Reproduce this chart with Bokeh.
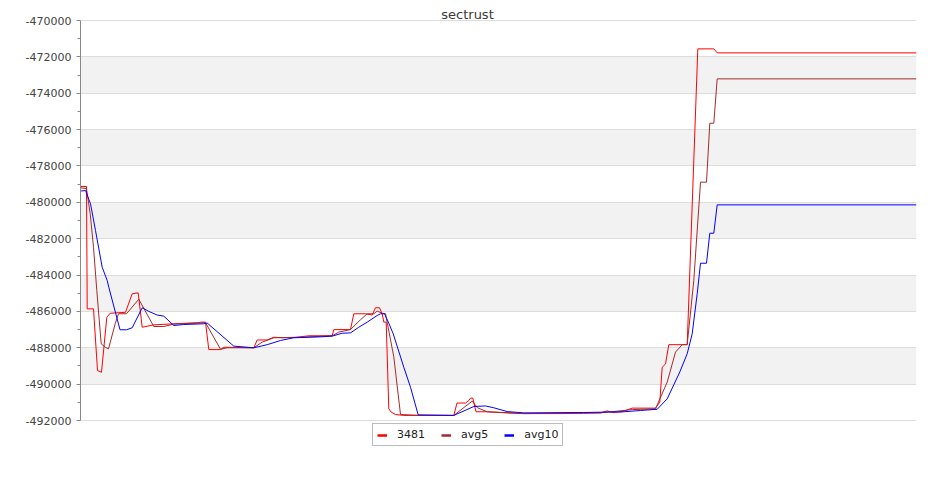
from bokeh.plotting import figure
from bokeh.models import Range1d, FixedTicker, PrintfTickFormatter, Legend, LegendItem, Label, BoxAnnotation
from bokeh.embed import file_html
from bokeh.resources import INLINE

title_text = "sectrust"
series_names = ["3481", "avg5", "avg10"]
series_colors = ["#ff0000", "#a52a2a", "#0000ff"]

y_ticks = [-492000, -490000, -488000, -486000, -484000, -482000,
           -480000, -478000, -476000, -474000, -472000, -470000]
y_minor_ticks = [-491000, -489000, -487000, -485000, -483000, -481000,
                 -479000, -477000, -475000, -473000, -471000]

# series 3481
x_3481 = [80, 86, 86.7, 93, 97, 101, 106.3, 109.7, 125, 131.7, 137.7, 141.7, 153.3, 173.3,
          198.3, 200, 205, 208.3, 220, 223.3, 253.3, 256.7, 266.7, 273.3, 281.7, 295, 308.3,
          331.7, 333.3, 350, 353.3, 365, 371.7, 375, 379, 381.7, 383.3, 385.7, 388.3, 390.7,
          395, 403.3, 453.3, 456.5, 465, 468.3, 470, 472.3, 475.5, 486.7, 500, 523, 560, 583,
          600, 606.7, 612, 621.7, 631.7, 655, 659.3, 661.7, 665, 668.3, 686.7, 697.3, 713.3,
          716.7, 916]
y_3481 = [-479130, -479130, -485860, -485860, -489250, -489350, -486320, -486100, -486050,
          -485030, -484980, -486870, -486740, -486680, -486620, -486590, -486590, -488100,
          -488100, -487970, -488000, -487570, -487570, -487420, -487450, -487430, -487340,
          -487340, -487000, -487000, -486130, -486130, -486200, -485800, -485800, -486130,
          -486590, -486590, -491360, -491540, -491670, -491720, -491720, -491040, -491040,
          -490900, -490770, -490770, -491520, -491520, -491560, -491620, -491620, -491600,
          -491580, -491470, -491560, -491520, -491320, -491320, -490990, -489070, -488890,
          -487830, -487830, -471560, -471560, -471780, -471780]

# series avg5
x_avg5 = [80, 86, 89.7, 93, 96.3, 100.7, 104.7, 108, 114.7, 118, 126, 138.3, 153.3, 163.3,
          173.3, 205, 220, 226.7, 253.3, 261.7, 273.3, 300, 331.7, 338.3, 350, 360, 366.7,
          373.3, 376.7, 381.7, 385, 393.3, 400, 420, 453.3, 471.7, 477, 486.7, 523, 600,
          631.7, 655, 666.7, 675, 681.7, 686.7, 693.3, 700, 706, 709.3, 713.3, 716.7, 916]
y_avg5 = [-479200, -479250, -480630, -482470, -484850, -487780, -487970, -488060, -486680,
          -486130, -486130, -485330, -486830, -486830, -486700, -486620, -488080, -488000,
          -488000, -487690, -487450, -487420, -487340, -487140, -486995, -486460, -486130,
          -486130, -485985, -486100, -486130, -488500, -491670, -491720, -491720, -490935,
          -491300, -491520, -491620, -491580, -491400, -491360, -489890, -488240, -487830,
          -487830, -484300, -478890, -478890, -475650, -475650, -473210, -473210]

# series avg10
x_avg10 = [80, 85, 90, 95, 101.7, 106.7, 108.3, 119.5, 126, 131.7, 141.7, 148.3, 156.7, 163.3,
           173.3, 183.3, 203.3, 206.7, 233.3, 253.3, 266.7, 280, 293.3, 320, 331.7, 341.7, 350,
           358.3, 366.7, 376.7, 380, 384, 388.3, 392.7, 403.3, 410, 417.7, 453.3, 473.3, 485,
           493.3, 506.7, 523.3, 583.3, 623.3, 640, 656.7, 666.7, 679.3, 686.7, 691.7, 696.7,
           700, 706, 709.3, 713.3, 716.7, 916]
y_avg10 = [-479380, -479350, -480080, -481550, -483570, -484300, -484670, -487010, -487010,
           -486900, -485800, -486000, -486200, -486260, -486775, -486720, -486680, -486640,
           -487910, -488000, -487830, -487600, -487450, -487400, -487360, -487200, -487180,
           -486870, -486590, -486225, -486130, -486130, -486650, -487230, -489070, -490170,
           -491690, -491720, -491230, -491200, -491300, -491510, -491580, -491560, -491520,
           -491450, -491380, -490810, -489330, -488330, -487230, -485030, -483350, -483350,
           -481700, -481700, -480140, -480140]

y_min, y_max = -492000, -470000
# frame extends beyond the axis range: title room above, legend room below
y_view_bottom, y_view_top = -493650, -468900

p = figure(width=935, height=490, output_backend="svg", toolbar_location=None,
           x_range=Range1d(80, 916), y_range=Range1d(y_view_bottom, y_view_top),
           min_border_left=80, min_border_right=19, min_border_top=0, min_border_bottom=40)
p.outline_line_color = None
p.background_fill_color = "white"
p.border_fill_color = "white"

p.xaxis.visible = False
p.xgrid.visible = False

ya = p.yaxis[0]
ya.bounds = (y_min, y_max)
ya.ticker = FixedTicker(ticks=y_ticks, minor_ticks=y_minor_ticks)
ya.formatter = PrintfTickFormatter(format="%d")
ya.axis_line_color = "#888888"
ya.major_tick_line_color = "#888888"
ya.minor_tick_line_color = "#888888"
ya.major_tick_in = 0
ya.major_tick_out = 4
ya.minor_tick_in = 0
ya.minor_tick_out = 3
ya.major_label_text_font = "DejaVu Sans"
ya.major_label_text_font_size = "11px"
ya.major_label_text_color = "#444444"
ya.major_label_standoff = 5

# alternating bands between every other pair of ticks
for i in range(1, len(y_ticks) - 1, 2):
    p.add_layout(BoxAnnotation(bottom=y_ticks[i], top=y_ticks[i + 1], fill_color="#f2f2f2",
                               fill_alpha=1.0, line_color=None, level="image"))

p.ygrid.bounds = (y_min, y_max)
p.ygrid.ticker = FixedTicker(ticks=y_ticks)
p.ygrid.grid_line_color = "#dddddd"
p.ygrid.band_fill_color = None

r1 = p.line(x_3481, y_3481, line_color=series_colors[0], line_width=1)
r2 = p.line(x_avg5, y_avg5, line_color=series_colors[1], line_width=1)
r3 = p.line(x_avg10, y_avg10, line_color=series_colors[2], line_width=1)

# legend swatches (thicker than the data lines, as in the reference); one point draws nothing
swatches = [p.line([xs[0]], [ys[0]], line_color=c, line_width=2.5)
            for xs, ys, c in zip([x_3481, x_avg5, x_avg10], [y_3481, y_avg5, y_avg10], series_colors)]

title = Label(x=467, y=-469690, text=title_text, text_align="center",
              text_baseline="alphabetic", text_font="DejaVu Sans", text_font_size="13px",
              text_color="#3a3a3a")
p.add_layout(title)

legend = Legend(items=[LegendItem(label=n, renderers=[r]) for n, r in zip(series_names, swatches)],
                location=(292, 4), orientation="horizontal",
                border_line_color="#777777", border_line_width=1,
                background_fill_color="white", background_fill_alpha=1,
                label_text_font="DejaVu Sans", label_text_font_size="11px",
                label_text_color="#222222",
                glyph_width=10, glyph_height=12, label_height=12, label_standoff=10,
                spacing=16, padding=4, margin=0)
p.add_layout(legend, "center")

open("out.html", "w").write(file_html(p, INLINE))
